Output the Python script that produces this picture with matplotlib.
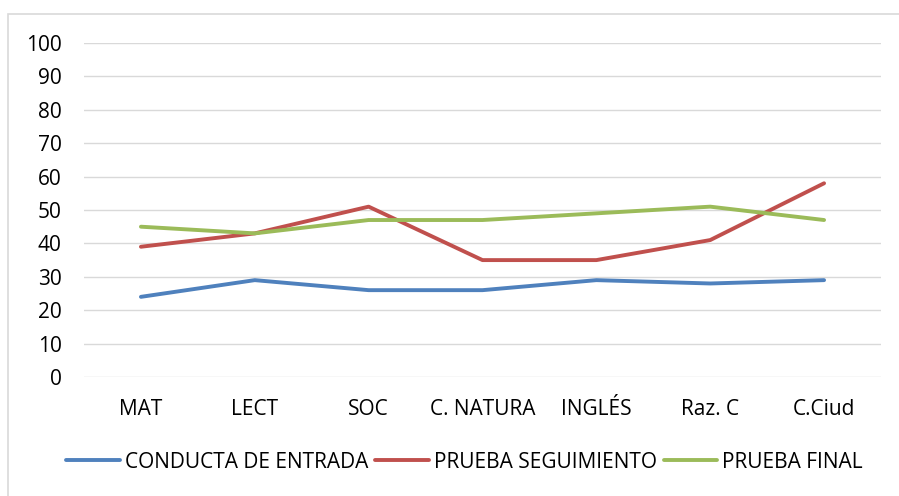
import matplotlib
matplotlib.use("Agg")
import matplotlib.pyplot as plt
from matplotlib.patches import Rectangle

categories = ["MAT", "LECT", "SOC", "C. NATURA", "INGLÉS", "Raz. C", "C.Ciud"]
conducta = [24, 29, 26, 26, 29, 28, 29]
seguimiento = [39, 43, 51, 35, 35, 41, 58]
final = [45, 43, 47, 47, 49, 51, 47]
yticks = list(range(0, 101, 10))

plt.rcParams['font.family'] = ['Open Sans', 'DejaVu Sans']

fig = plt.figure(figsize=(8.99, 4.96), dpi=100)
ax = fig.add_axes([84/899, 1-377/496, (881-84)/899, (377-43)/496])

x = list(range(len(categories)))
ax.plot(x, conducta, color="#4F81BD", lw=2.8, solid_capstyle="round", label="CONDUCTA DE ENTRADA")
ax.plot(x, seguimiento, color="#C0504D", lw=2.8, solid_capstyle="round", label="PRUEBA SEGUIMIENTO")
ax.plot(x, final, color="#9BBB59", lw=2.8, solid_capstyle="round", label="PRUEBA FINAL")

ax.set_xlim(-0.5, len(categories)-0.5)
ax.set_ylim(0, 100)
ax.set_yticks(yticks)
ax.set_xticks(x)
ax.set_xticklabels(categories)
ax.grid(axis="y", color="#D9D9D9", lw=1)
ax.set_axisbelow(True)
for s in ax.spines.values():
    s.set_visible(False)
ax.tick_params(length=0, labelsize=15, colors="black")
ax.tick_params(axis="y", pad=16)
ax.tick_params(axis="x", pad=16)

fig.legend(loc="center", bbox_to_anchor=(0.517, 1-462/496), ncol=3, frameon=False,
           fontsize=15, handlelength=2.55, handletextpad=0.25, columnspacing=0.35)

fig.patches.append(Rectangle((8/899, -0.1), 1.2, 1.1 - 14/496, transform=fig.transFigure,
                             fill=False, edgecolor="#D9D9D9", lw=1.2))

fig.savefig("out.png", dpi=100)
